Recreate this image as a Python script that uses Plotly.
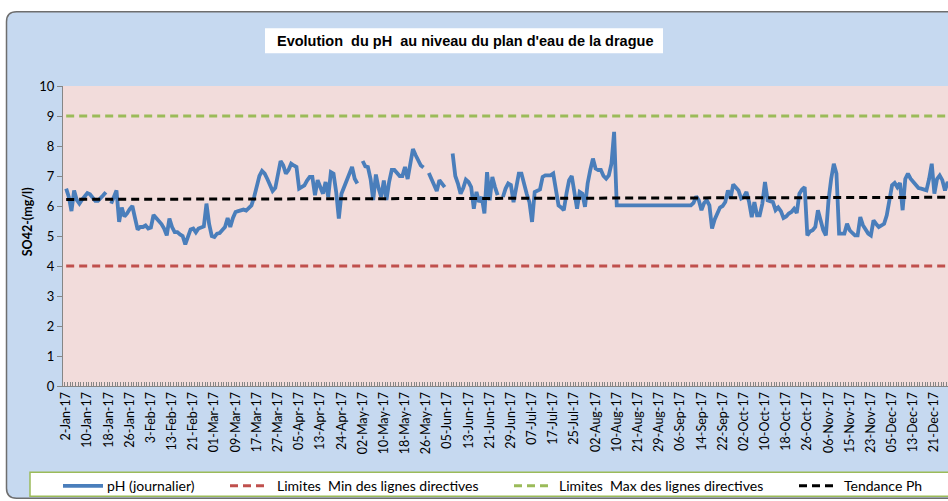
import plotly.graph_objects as go

# étiquettes de l'axe des dates (une étiquette toutes les 8 mesures)
date_labels = ["2-Jan-17", "10-Jan-17", "18-Jan-17", "26-Jan-17", "3-Feb-17", "13-Feb-17",
               "21-Feb-17", "01-Mar-17", "09-Mar-17", "17-Mar-17", "27-Mar-17", "05-Apr-17",
               "13-Apr-17", "24-Apr-17", "02-May-17", "10-May-17", "18-May-17", "26-May-17",
               "05-Jun-17", "13-Jun-17", "21-Jun-17", "29-Jun-17", "07-Jul-17", "17-Jul-17",
               "25-Jul-17", "02-Aug-17", "10-Aug-17", "21-Aug-17", "29-Aug-17", "06-Sep-17",
               "14-Sep-17", "22-Sep-17", "02-Oct-17", "10-Oct-17", "18-Oct-17", "26-Oct-17",
               "06-Nov-17", "15-Nov-17", "23-Nov-17", "05-Dec-17", "13-Dec-17", "21-Dec-17"]
label_step = 8

# pH journalier (None = pas de mesure)
ph_values = [
    6.58, 6.3, 5.83, 6.52, 6.2, 6.08, 6.21, 6.32,
    6.43, 6.39, 6.28, 6.17, 6.17, 6.25, 6.36, 6.46,
    None, 6.08, 6.3, 6.52, 5.47, 5.95, 5.65, 5.75,
    5.9, 6.0, 5.6, 5.21, 5.3, 5.3, 5.35, 5.25,
    5.28, 5.7, 5.6, 5.5, 5.4, 5.25, 5.02, 5.58,
    5.3, 5.13, 5.13, 5.05, 5.0, 4.72, 5.0, 5.22,
    5.25, 5.12, 5.25, 5.3, 5.32, 6.08, 5.4, 5.0,
    4.97, 5.08, 5.1, 5.2, 5.3, 5.6, 5.3, 5.6,
    5.8, 5.83, 5.85, 5.88, 5.85, 5.95, 6.02, 6.3,
    6.7, 7.0, 7.17, 7.08, 6.9, 6.7, 6.5, 6.6,
    7.0, 7.5, 7.36, 7.08, 7.2, 7.41, 7.35, 7.3,
    6.58, 6.62, 6.69, 6.85, 6.97, 6.97, 6.36, 6.86,
    6.6, 6.41, 6.8, 6.3, 7.13, 7.08, 6.47, 5.58,
    6.41, 6.65, 6.86, 7.1, 7.3, 6.91, 6.75, None,
    7.5, 7.32, 7.3, 6.9, 6.2, 7.05, 6.6, 6.3,
    6.85, 6.2, 6.8, 7.2, 7.2, 7.1, 7.0, 7.0,
    7.3, 6.9, 7.5, 7.9, 7.7, 7.55, 7.35, 7.28,
    None, 7.1, 6.9, 6.7, 6.5, 6.86, 6.75, 6.63,
    None, None, 7.75, 7.0, 6.75, 6.41, 6.6, 6.88,
    6.8, 6.63, 5.91, 6.47, 6.13, 6.3, 5.75, 7.13,
    6.19, 6.97, 6.63, 6.36, None, 6.3, 6.58, 6.75,
    6.7, 6.13, 6.6, 7.08, 7.08, 6.69, 6.4, 6.13,
    5.47, 6.47, 6.52, 6.55, 6.97, 7.02, 7.02, 7.02,
    7.08, 6.52, 6.02, 5.95, 5.86, 6.41, 6.86, 7.0,
    6.41, 5.91, 6.47, 6.41, 5.97, 6.75, 7.2, 7.58,
    7.25, 7.2, 7.2, 7.0, 6.91, 7.02, 7.41, 8.47,
    6.02, 6.02, 6.02, 6.02, 6.02, 6.02, 6.02, 6.02,
    6.02, 6.02, 6.02, 6.02, 6.02, 6.02, 6.02, 6.02,
    6.02, 6.02, 6.02, 6.02, 6.02, 6.02, 6.02, 6.02,
    6.02, 6.02, 6.02, 6.02, 6.02, 6.1, 6.32, 6.19,
    5.86, 6.1, 6.19, 6.02, 5.25, 5.55, 5.75, 5.95,
    6.0, 6.13, 6.52, 6.25, 6.72, 6.6, 6.52, 6.25,
    6.3, 6.47, 6.13, 5.63, 6.13, 5.69, 5.69, 6.08,
    6.8, 6.19, 6.15, 6.13, 5.86, 5.95, 5.83, 5.6,
    5.65, 5.75, 5.8, 5.91, 5.77, 6.41, 6.55, 6.63,
    5.02, 5.15, 5.19, 5.3, 5.86, 5.5, 5.2, 5.02,
    6.19, 6.9, 7.41, 7.08, 5.08, 5.08, 5.08, 5.41,
    5.19, 5.1, 5.02, 5.02, 5.63, 5.36, 5.2, 5.08,
    5.02, 5.52, 5.4, 5.3, 5.35, 5.41, 5.69, 6.2,
    6.69, 6.77, 6.63, 6.77, 5.86, 6.9, 7.08, 6.91,
    6.8, 6.69, 6.6, 6.58, 6.55, 6.52, 6.9, 7.41,
    6.41, 6.9, 7.02, 6.86, 6.52, 6.8, 6.6, 6.7,
]

limite_min = 4
limite_max = 9
tendance_debut = 6.22
tendance_fin = 6.29

n = len(ph_values)
idx = list(range(n))
x_ends = [0, n - 1]

W, H = 948, 501
PL, PR, PT, PB = 63, 948, 85.7, 385.7   # zone de tracé, en pixels
L, R, T, B = PL, W - PR, PT, H - PB
PW, PH = PR - PL, PB - PT


def px(x):
    return (x - PL) / PW


def py(y):
    return (PB - y) / PH


BLUE = "#4A7EBB"
RED = "#C0504D"
GREEN = "#9BBB59"
TXT = "Lato"

fig = go.Figure()
fig.add_trace(go.Scatter(x=idx, y=ph_values, mode="lines", connectgaps=False,
                         line=dict(color=BLUE, width=3.8), name="pH (journalier)"))
fig.add_trace(go.Scatter(x=x_ends, y=[limite_min] * 2, mode="lines",
                         line=dict(color=RED, width=3, dash="8px,5px"),
                         name="Limites  Min des lignes directives"))
fig.add_trace(go.Scatter(x=x_ends, y=[limite_max] * 2, mode="lines",
                         line=dict(color=GREEN, width=3, dash="8px,5px"),
                         name="Limites  Max des lignes directives"))
fig.add_trace(go.Scatter(x=x_ends, y=[tendance_debut, tendance_fin], mode="lines",
                         line=dict(color="black", width=3, dash="8px,5px"),
                         name="Tendance Ph"))

# cadre arrondi (coupé à droite comme sur l'image)
x0, x1, y0, y1, r = 6.5, 975, 11.5, 498, 10
frame = (f"M {px(x0)},{py(y0 + r)} Q {px(x0)},{py(y0)} {px(x0 + r)},{py(y0)} "
         f"L {px(x1)},{py(y0)} L {px(x1)},{py(y1)} L {px(x0 + r)},{py(y1)} "
         f"Q {px(x0)},{py(y1)} {px(x0)},{py(y1 - r)} Z")
shapes = [
    dict(type="path", xref="paper", yref="paper", path=frame, layer="below",
         fillcolor="#C6D9F0", line=dict(color="#6E6E6E", width=1.5)),
    # zone de tracé rose
    dict(type="rect", xref="paper", yref="paper", x0=0, x1=1, y0=0, y1=1,
         fillcolor="#F2DCDB", line=dict(width=0), layer="below"),
    # boîte du titre
    dict(type="rect", xref="paper", yref="paper", x0=px(265), x1=px(663), y0=py(28), y1=py(53),
         fillcolor="white", line=dict(width=0), layer="below"),
    # boîte de la légende
    dict(type="rect", xref="paper", yref="paper", x0=px(30), x1=px(990), y0=py(472), y1=py(496),
         fillcolor="white", line=dict(color=GREEN, width=1.5)),
]

# légende dessinée à la main
leg_y = 485.5
leg_items = [
    (63, 103, 105, BLUE, "solid", "pH (journalier)"),
    (230, 267, 275, RED, "dash", "Limites  Min des lignes directives"),
    (514, 551, 557, GREEN, "dash", "Limites  Max des lignes directives"),
    (799, 835, 842, "black", "dash", "Tendance Ph"),
]
annotations = []
for a, b, t, col, dash, label in leg_items:
    shapes.append(dict(type="line", xref="paper", yref="paper", x0=px(a), x1=px(b),
                       y0=py(leg_y), y1=py(leg_y),
                       line=dict(color=col, width=3.8 if dash == "solid" else 3,
                                 dash="solid" if dash == "solid" else "8px,5px")))
    annotations.append(dict(x=px(t), y=py(leg_y), xref="paper", yref="paper", text=label,
                            showarrow=False, xanchor="left", yanchor="middle",
                            font=dict(family=TXT, size=14, color="black")))

annotations.append(dict(x=px(465), y=py(41), xref="paper", yref="paper",
                        text="<b>Evolution  du pH  au niveau du plan d'eau de la drague</b>",
                        showarrow=False, xanchor="center", yanchor="middle",
                        font=dict(family="Liberation Sans", size=14.5, color="black")))
annotations.append(dict(x=px(27), y=py(222), xref="paper", yref="paper",
                        text="<b>SO42-(mg/l)</b>", textangle=-90, showarrow=False,
                        xanchor="center", yanchor="middle",
                        font=dict(family=TXT, size=12.5, color="black")))

fig.update_layout(
    width=W, height=H,
    margin=dict(l=L, r=R, t=T, b=B),
    paper_bgcolor="white",
    plot_bgcolor="rgba(0,0,0,0)",
    showlegend=False,
    shapes=shapes,
    annotations=annotations,
)
fig.update_xaxes(
    range=[-1.2, -1.2 + PW / 2.647], automargin=False,
    tickvals=[i * label_step for i in range(len(date_labels))],
    ticktext=date_labels, tickangle=-90, ticks="",
    tickfont=dict(family=TXT, size=12.5, color="black"),
    showgrid=False, zeroline=False, showline=True, linecolor="#868686", linewidth=1,
    minor=dict(dtick=1, tick0=-0.5, ticks="inside", ticklen=4, tickcolor="#868686", showgrid=False),
)
fig.update_yaxes(
    range=[0, 10], dtick=1, ticks="outside", ticklen=5, tickcolor="#868686", automargin=False,
    tickfont=dict(family=TXT, size=13, color="black"),
    showgrid=False, zeroline=False, showline=True, linecolor="#868686", linewidth=1,
)

# la page HTML ajoute une marge de 8 px autour du graphique : on la supprime
fig.write_html("out.html", config={"displayModeBar": False},
               post_script="document.body.style.margin = '0';")
